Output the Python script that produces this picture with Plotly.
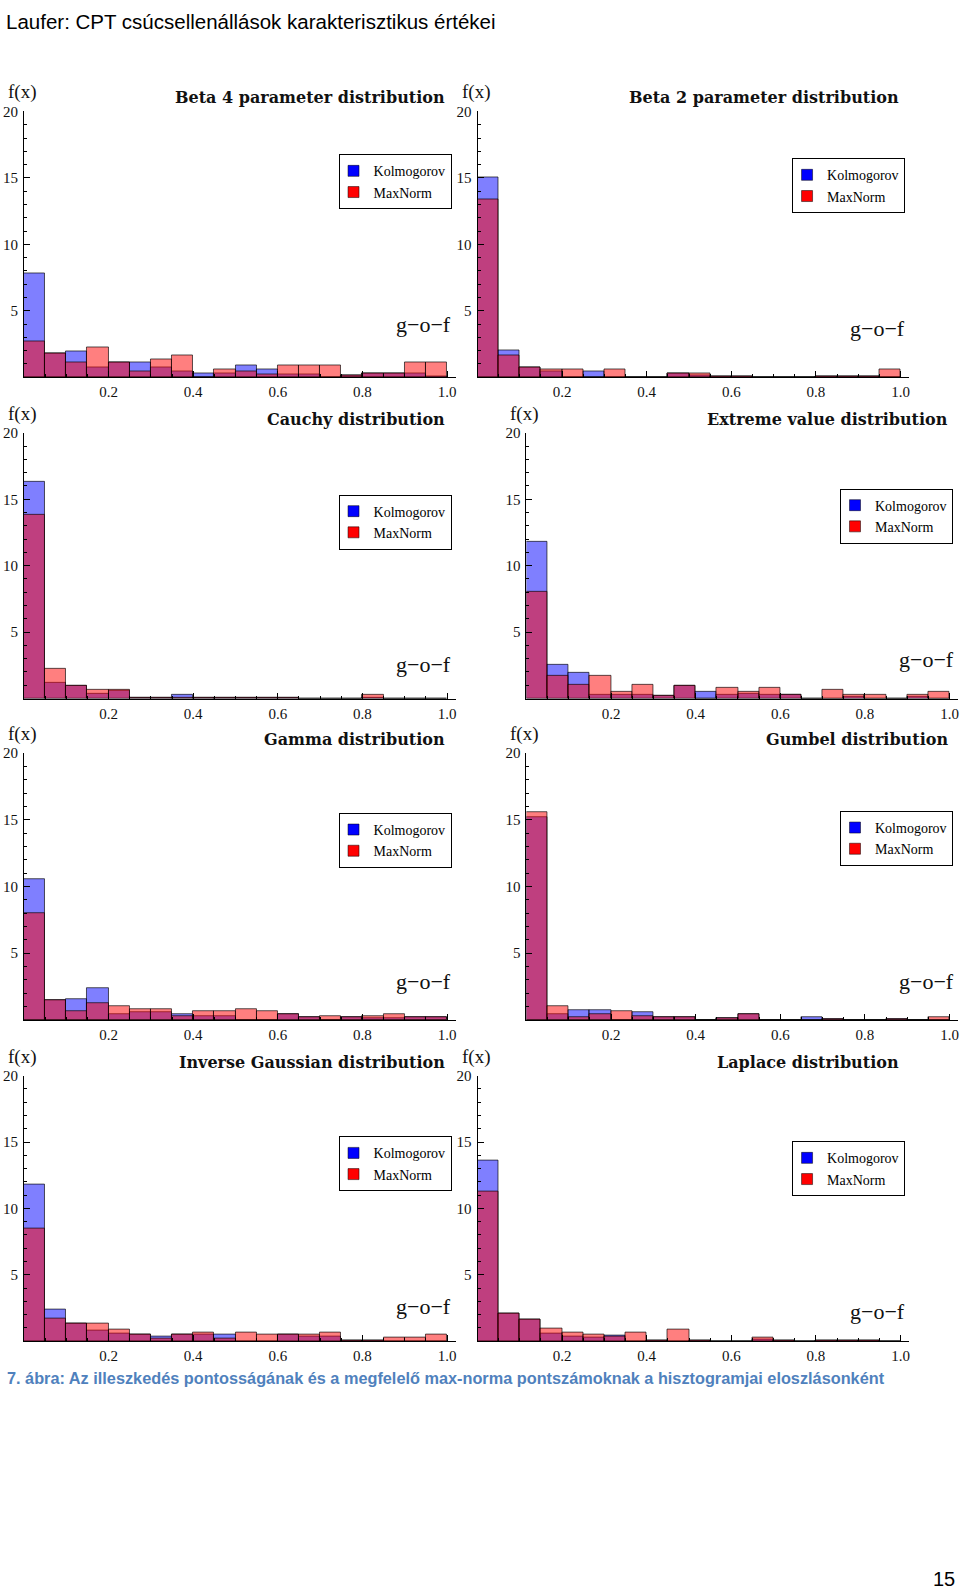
import numpy as np
import plotly.graph_objects as go

# ---------------- data ----------------
bin_edges = [round(0.05 * i, 2) for i in range(21)]
bin_width = 0.05

titles = [
    "Beta 4 parameter distribution",
    "Beta 2 parameter distribution",
    "Cauchy distribution",
    "Extreme value distribution",
    "Gamma distribution",
    "Gumbel distribution",
    "Inverse Gaussian distribution",
    "Laplace distribution",
]

beta4_kolm = [7.8, 1.8, 1.9, 0.7, 1.1, 1.1, 0.7, 0.45, 0.3, 0.3, 0.9, 0.55, 0.2, 0.2, 0.0, 0.15, 0.25, 0.25, 0.3, 0.05]
beta4_maxn = [2.7, 1.8, 1.1, 2.25, 1.1, 0.45, 1.3, 1.6, 0.0, 0.6, 0.45, 0.2, 0.9, 0.9, 0.9, 0.15, 0.25, 0.25, 1.1, 1.1]

beta2_kolm = [15.0, 2.0, 0.7, 0.45, 0.0, 0.45, 0.0, 0.0, 0.0, 0.28, 0.15, 0.05, 0.05, 0.0, 0.0, 0.0, 0.04, 0.04, 0.04, 0.0]
beta2_maxn = [13.4, 1.6, 0.7, 0.6, 0.6, 0.0, 0.6, 0.0, 0.0, 0.28, 0.28, 0.05, 0.05, 0.0, 0.0, 0.0, 0.04, 0.04, 0.04, 0.6]

cauchy_kolm = [16.3, 1.17, 0.92, 0.37, 0.6, 0.05, 0.05, 0.27, 0.05, 0.05, 0.05, 0.05, 0.05, 0.0, 0.0, 0.0, 0.05, 0.0, 0.0, 0.0]
cauchy_maxn = [13.8, 2.27, 0.92, 0.65, 0.65, 0.05, 0.05, 0.05, 0.05, 0.05, 0.05, 0.05, 0.05, 0.0, 0.0, 0.0, 0.27, 0.0, 0.0, 0.0]

extreme_kolm = [11.8, 2.5, 1.9, 0.3, 0.3, 0.3, 0.17, 0.92, 0.47, 0.3, 0.35, 0.3, 0.25, 0.0, 0.0, 0.15, 0.0, 0.0, 0.15, 0.0]
extreme_maxn = [8.0, 1.67, 1.0, 1.67, 0.47, 1.0, 0.17, 0.92, 0.0, 0.8, 0.47, 0.8, 0.25, 0.0, 0.65, 0.3, 0.25, 0.0, 0.25, 0.47]

gamma_kolm = [10.55, 1.5, 1.57, 2.34, 0.42, 0.55, 0.55, 0.45, 0.3, 0.3, 0.0, 0.0, 0.42, 0.2, 0.0, 0.17, 0.1, 0.1, 0.2, 0.2]
gamma_maxn = [8.0, 1.5, 0.62, 1.27, 1.0, 0.8, 0.8, 0.3, 0.62, 0.62, 0.82, 0.62, 0.42, 0.2, 0.25, 0.17, 0.25, 0.42, 0.2, 0.2]

gumbel_kolm = [15.2, 0.42, 0.72, 0.72, 0.0, 0.55, 0.22, 0.22, 0.0, 0.15, 0.42, 0.0, 0.0, 0.22, 0.05, 0.0, 0.0, 0.05, 0.0, 0.0]
gumbel_maxn = [15.55, 1.0, 0.22, 0.42, 0.62, 0.3, 0.22, 0.22, 0.0, 0.15, 0.42, 0.0, 0.0, 0.0, 0.05, 0.0, 0.0, 0.05, 0.0, 0.22]

invgauss_kolm = [11.8, 2.37, 1.32, 0.8, 0.55, 0.5, 0.35, 0.5, 0.5, 0.5, 0.0, 0.0, 0.5, 0.35, 0.35, 0.07, 0.07, 0.0, 0.0, 0.0]
invgauss_maxn = [8.5, 1.7, 1.32, 1.32, 0.87, 0.5, 0.2, 0.5, 0.67, 0.2, 0.67, 0.5, 0.5, 0.5, 0.67, 0.07, 0.07, 0.3, 0.3, 0.5]

laplace_kolm = [13.6, 2.12, 1.62, 0.57, 0.37, 0.25, 0.45, 0.0, 0.05, 0.0, 0.05, 0.0, 0.0, 0.1, 0.05, 0.0, 0.05, 0.05, 0.05, 0.0]
laplace_maxn = [11.3, 2.12, 1.62, 0.95, 0.67, 0.5, 0.35, 0.67, 0.05, 0.87, 0.05, 0.0, 0.0, 0.3, 0.05, 0.0, 0.05, 0.05, 0.05, 0.0]

kolm_series = [beta4_kolm, beta2_kolm, cauchy_kolm, extreme_kolm, gamma_kolm, gumbel_kolm, invgauss_kolm, laplace_kolm]
maxn_series = [beta4_maxn, beta2_maxn, cauchy_maxn, extreme_maxn, gamma_maxn, gumbel_maxn, invgauss_maxn, laplace_maxn]

series_names = ["Kolmogorov", "MaxNorm"]
x_ticks = [0.2, 0.4, 0.6, 0.8, 1.0]
x_ticktext = ["0.2", "0.4", "0.6", "0.8", "1.0"]
y_ticks = [5, 10, 15, 20]
y_ticktext = ["5", "10", "15", "20"]

page_title = "Laufer: CPT csúcsellenállások karakterisztikus értékei"
caption = "7. ábra: Az illeszkedés pontosságának és a megfelelő max-norma pontszámoknak a hisztogramjai eloszlásonként"
page_number = "15"

# ---------------- layout geometry (pixels) ----------------
W, H = 960, 1591
col_px = [(24, 456), (478, 910), (24, 456), (527, 959),
          (24, 456), (527, 959), (24, 456), (478, 910)]
row_px = [(371, 104), (371, 104), (694, 427), (694, 427),
          (1017, 749), (1017, 749), (1340, 1073), (1340, 1073)]
legend_px = [(452, 147), (906, 151), (452, 489), (954, 483),
             (452, 809), (954, 807), (452, 1134), (906, 1139)]
gof_py = [318, 322, 660, 655, 978, 978, 1305, 1310]

SERIF = "Liberation Serif, Times New Roman, serif"
TITLE_SERIF = "DejaVu Serif, serif"
BLUE_FILL = "rgba(0,0,255,0.5)"
RED_FILL = "rgba(255,0,0,0.5)"
EDGE = "rgba(0,0,0,0.65)"

centers = [(bin_edges[i] + bin_edges[i + 1]) / 2 for i in range(20)]

fig = go.Figure()
annotations = []
layout_axes = {}

for i in range(8):
    n = i + 1
    xa = "x" if n == 1 else f"x{n}"
    ya = "y" if n == 1 else f"y{n}"
    leg = "legend" if n == 1 else f"legend{n}"
    x0, x1 = col_px[i]
    yb, yt = row_px[i]
    xdom = [x0 / W, x1 / W]
    ydom = [1 - yb / H, 1 - yt / H]

    fig.add_trace(go.Bar(
        x=centers, y=kolm_series[i], width=bin_width, xaxis=xa, yaxis=ya,
        marker=dict(color=BLUE_FILL, line=dict(color=EDGE, width=1)),
        showlegend=False, hoverinfo="skip"))
    fig.add_trace(go.Bar(
        x=centers, y=maxn_series[i], width=bin_width, xaxis=xa, yaxis=ya,
        marker=dict(color=RED_FILL, line=dict(color=EDGE, width=1)),
        showlegend=False, hoverinfo="skip"))
    for name, col in zip(series_names, ["#0000ff", "#ff0000"]):
        fig.add_trace(go.Scatter(
            x=[None], y=[None], mode="markers", name=name, xaxis=xa, yaxis=ya,
            marker=dict(symbol="square", size=11, color=col,
                        line=dict(color="rgba(0,0,0,0.5)", width=1)),
            legend=leg, showlegend=True))

    axis_common = dict(showline=True, linecolor="black", linewidth=1,
                       ticks="inside", tickcolor="black", ticklen=6,
                       showgrid=False, zeroline=False,
                       tickfont=dict(family=SERIF, size=15, color="#111"))
    layout_axes["xaxis" if n == 1 else f"xaxis{n}"] = dict(
        axis_common, domain=xdom, range=[0, 1.02], anchor=ya,
        tickvals=x_ticks, ticktext=x_ticktext, ticklabelstandoff=1,
        minor=dict(dtick=0.05, tick0=0, ticks="inside", ticklen=3, tickcolor="black"))
    layout_axes["yaxis" if n == 1 else f"yaxis{n}"] = dict(
        axis_common, domain=ydom, range=[0, 20], anchor=xa,
        tickvals=y_ticks, ticktext=y_ticktext, ticklabelstandoff=2,
        minor=dict(dtick=1, tick0=0, ticks="inside", ticklen=3, tickcolor="black"))

    lx, ly = legend_px[i]
    layout_axes[leg] = dict(
        x=lx / W, y=1 - ly / H, xanchor="right", yanchor="top",
        bgcolor="white", bordercolor="black", borderwidth=1,
        font=dict(family=SERIF, size=14, color="black"),
        itemwidth=30, tracegroupgap=0, indentation=-6)

    annotations.append(dict(
        text=f"<b>{titles[i]}</b>", xref=f"{xa} domain", yref=f"{ya} domain",
        x=1.0 / 1.02, y=1.0, xanchor="right", yanchor="bottom", yshift=2,
        showarrow=False, font=dict(family=TITLE_SERIF, size=16, color="#111")))
    annotations.append(dict(
        text="f(x)", xref=f"{xa} domain", yref=f"{ya} domain",
        x=0, y=1.0, xanchor="center", yanchor="bottom", yshift=6, xshift=-2,
        showarrow=False, font=dict(family=SERIF, size=19, color="#111")))
    annotations.append(dict(
        text="g\u2212o\u2212f", xref=f"{xa} domain", yref="paper",
        x=0.995, y=1 - gof_py[i] / H, xanchor="right", yanchor="middle",
        showarrow=False, font=dict(family=SERIF, size=22, color="#111")))

annotations.append(dict(
    text=page_title, xref="paper", yref="paper", x=4 / W, y=1 - 14 / H,
    xanchor="left", yanchor="middle", showarrow=False,
    font=dict(family="Liberation Sans, Arial, sans-serif", size=20.5, color="black")))
annotations.append(dict(
    text=f"<b>{caption}</b>", xref="paper", yref="paper", x=5 / W, y=1 - 1377 / H,
    xanchor="left", yanchor="middle", showarrow=False,
    font=dict(family="Liberation Sans, Arial, sans-serif", size=16.3, color="#4f81bd")))
annotations.append(dict(
    text=page_number, xref="paper", yref="paper", x=958 / W, y=1 - 1579 / H,
    xanchor="right", yanchor="middle", showarrow=False,
    font=dict(family="Liberation Sans, Arial, sans-serif", size=20, color="black")))

fig.update_layout(
    width=W, height=H, margin=dict(l=0, r=0, t=0, b=0),
    paper_bgcolor="white", plot_bgcolor="white",
    barmode="overlay", bargap=0,
    annotations=annotations,
    **layout_axes)

post = (
    "document.documentElement.style.margin='0';"
    "document.body.style.margin='0';document.body.style.padding='0';"
    "var gd=document.getElementsByClassName('plotly-graph-div')[0];"
    "gd.style.position='absolute';gd.style.top='0px';gd.style.left='0px';"
    "window.scrollTo(0,0);"
)
fig.write_html("out.html", config={"displayModeBar": False}, post_script=post)
